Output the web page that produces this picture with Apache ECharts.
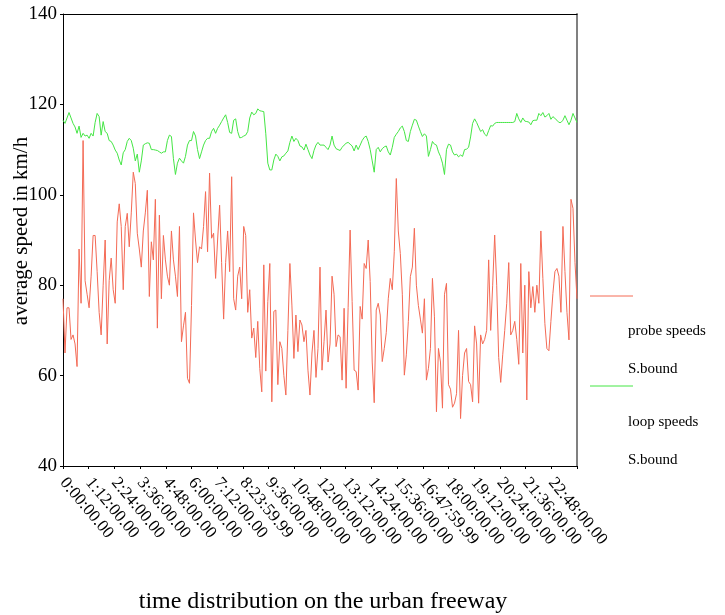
<!DOCTYPE html>
<html><head><meta charset="utf-8">
<script src="https://cdn.jsdelivr.net/npm/echarts@6/dist/echarts.min.js"></script>
<style>html,body{margin:0;padding:0;background:#fff}#c{width:725px;height:615px}</style>
</head><body><div id="c"></div>
<script>
// x-axis tick labels (one every 72 minutes over a 24 h day)
const tickLabels = ['0:00:00.00','1:12:00.00','2:24:00.00','3:36:00.00','4:48:00.00','6:00:00.00','7:12:00.00','8:23:59.99','9:36:00.00','10:48:00.00','12:00:00.00','13:12:00.00','14:24:00.00','15:36:00.00','16:47:59.99','18:00:00.00','19:12:00.00','20:24:00.00','21:36:00.00','22:48:00.00'];
const minutesPerTick = 72;
const dayMinutes = 1440;

// probe speeds, S.bound (km/h), samples evenly spread over the day
const probeSpeeds = [
77, 65, 75, 75, 68, 69, 67, 62, 88, 76, 112, 81, 78, 75, 82, 91, 91, 83, 74, 69, 80, 90, 67, 81, 86, 79, 76, 94, 98, 93, 79,
93, 95.9, 88.5, 96, 105, 102.5, 91.5, 88, 84, 92, 96, 101, 77.5, 89.6, 85.6, 99, 70.5, 95.5, 77, 91, 85.6, 82, 80, 92, 85.6, 82, 77.5, 93,
67.5, 71, 74, 59.4, 58.3, 75.5, 96, 90, 85, 88.5, 88, 93, 100.7, 87.4, 104.8, 90.4, 91.5, 81.5, 90, 97.7, 85, 72.5, 85, 92, 83, 104, 77, 74.5, 82, 84, 77, 93,
91, 74, 79, 68.3, 70.5, 64, 72, 61.6, 56.4, 84.5, 61, 76.4, 84.8, 54.2, 74.2, 74.5, 58, 67.5, 66, 60, 55.7, 70, 84.8, 75.6, 63.8, 73.4, 65.3, 72.3, 71.2, 67.5, 70, 61.2, 55.7, 65,
70, 59.6, 66, 84, 61.2, 67.5, 74.5, 63, 67, 82, 78, 66.4, 69, 68.6, 59, 74.9, 57.2, 75, 92.2, 76.4, 61.2, 60.9, 56.8, 75.3, 72.5, 84.8, 83.7, 90, 80.8, 63, 54, 74.5,
76, 73.4, 63.1, 66, 69.5, 77, 81.5, 79, 87.4, 103.6, 92, 87, 78, 60.1, 64.6, 72, 81.9, 84, 92.6, 80, 75.5, 72.5, 69.4, 77, 59, 61.6, 66, 81.5, 73, 52, 66, 63, 52.8, 78,
80.4, 58, 57, 53, 53.9, 56, 70, 50.5, 60, 65, 66, 58.7, 58, 54.2, 71, 67, 53.9, 69, 67, 68, 70, 85.6, 70, 80, 91.1, 80, 64, 58.5, 64.6, 70, 76,
85, 69, 70, 72, 68, 62.5, 84.8, 65, 80, 54.6, 83, 75, 79.7, 74, 80, 76, 92, 81.5, 71.5, 66, 65.5, 72, 78.2, 83, 83.7, 82, 74, 93, 83, 74, 67.9, 99, 97, 85, 77
];

// loop speeds, S.bound (km/h)
const loopSpeeds = [
116.5, 115.8, 117, 118.2, 117, 115.8, 115, 113.6, 115.2, 112.7, 113.6, 113, 113.2, 112.5, 113.6, 113, 116, 118, 117.3, 113.2, 116.2, 114, 113.6, 112, 111.8, 111, 109.9, 109.2, 107.7, 106.6, 109.3,
110, 111.8, 112.5, 112, 110.3, 107.5, 109, 105, 107.5, 111, 111.3, 111.5, 111.4, 110, 110, 109.9, 109.8, 109.5, 109.2, 109.5, 109.5, 112, 113.2, 112.9, 108, 104.5, 107, 108.1,
107.5, 107, 108.5, 111, 112, 112, 114, 113, 110, 108, 109.5, 111, 112, 112.5, 112.5, 114, 114.7, 113.6, 114.7, 115.4, 116.2, 117, 117.7, 116, 113.8, 113.6, 116.5, 116.8, 114, 112.6, 112.7, 113,
113.2, 114, 117, 118.3, 117.7, 118, 119, 118.6, 118.5, 118.4, 113.5, 107, 105.5, 105.5, 107.7, 109, 108.5, 107.5, 108.4, 108.6, 109.2, 109.7, 111.6, 113, 111.8, 112.5, 112, 110.8, 110.6, 109.9, 111.2, 110, 108.8, 108,
109.8, 111, 111.6, 111, 111, 111, 110.5, 110, 111, 113, 111, 110.2, 110, 109.8, 110.5, 111, 111.4, 111.6, 111.2, 110.8, 109.7, 111, 110, 111, 112, 112.7, 113, 111.8, 110, 107.5, 105, 110,
110.5, 109.5, 110.2, 110.6, 110.8, 109.5, 108.8, 110.5, 112.7, 113.4, 114, 114.8, 115.2, 114, 112, 111.8, 114, 115.4, 116.7, 116.5, 115.2, 114, 112.9, 113.5, 113, 108.5, 110, 111.8, 111.2, 111, 109.5, 108.5, 107, 104.5,
110, 111.2, 111, 109.5, 108.8, 109, 108.4, 108.8, 108.5, 110, 110.1, 110.5, 112.8, 115.8, 116.8, 116, 115, 114, 114.4, 113.4, 113, 114.2, 115.3, 115.2, 115.8, 116, 116, 116, 116, 116, 116,
116, 116, 116, 116.2, 118, 116.8, 116, 117, 116.3, 116.2, 116.1, 115.5, 116.4, 116.5, 116.5, 118, 117.5, 118.2, 117.2, 117.5, 118, 116.7, 117.3, 116.9, 116.5, 116, 116, 116.5, 117.5, 116.5, 115.5, 116.5, 118, 117, 116
];

const seriesNames = ['probe speeds S.bound', 'loop speeds S.bound'];
const legendText = [['probe speeds', 'S.bound'], ['loop speeds', 'S.bound']];
const seriesColors = ['#f46a55', '#45e645'];

const categories = probeSpeeds.map((_, i) => String(i));
const FONT = '"Liberation Serif", "Times New Roman", serif';

const chart = echarts.init(document.getElementById('c'), null, {renderer: 'canvas'});

const legendGraphics = [];
const legendRows = [[296, 331, 369], [386, 422, 460]];
legendRows.forEach((r, k) => {
  legendGraphics.push({type: 'line', shape: {x1: 590, y1: r[0], x2: 633, y2: r[0]}, style: {stroke: seriesColors[k], lineWidth: 1}});
  legendGraphics.push({type: 'text', x: 628, y: r[1], style: {text: legendText[k][0], font: '15px ' + FONT, fill: '#000', textVerticalAlign: 'middle'}});
  legendGraphics.push({type: 'text', x: 628, y: r[2], style: {text: legendText[k][1], font: '15px ' + FONT, fill: '#000', textVerticalAlign: 'middle'}});
});

chart.setOption({
  animation: false,
  backgroundColor: '#fff',
  grid: {left: 63, right: 148, top: 14, bottom: 149, show: false, containLabel: false, outerBoundsMode: 'none'},
  xAxis: [{
    // visible time-of-day axis (minutes)
    type: 'value', position: 'bottom', min: 0, max: dayMinutes, interval: minutesPerTick,
    axisLine: {lineStyle: {color: '#000', width: 1}},
    axisTick: {show: true, length: 3, lineStyle: {color: '#000'}},
    axisLabel: {rotate: -50, margin: 14, color: '#000', fontFamily: FONT, fontSize: 17, hideOverlap: false,
      formatter: (v) => tickLabels[Math.round(v / minutesPerTick)] || ''},
    splitLine: {show: false},
    name: 'time distribution on the urban freeway', nameLocation: 'middle', nameGap: 124, nameMoveOverlap: false,
    nameTextStyle: {color: '#000', fontFamily: FONT, fontSize: 24, padding: [0, 0, 0, 6]}
  }, {
    // sample axis for the series, drawn as the top frame line
    type: 'category', data: categories, boundaryGap: false, position: 'top',
    axisLine: {lineStyle: {color: '#000', width: 1}}, axisTick: {show: false}, axisLabel: {show: false}, splitLine: {show: false}
  }],
  yAxis: [{
    type: 'value', min: 40, max: 140, interval: 20,
    axisLine: {show: true, lineStyle: {color: '#000', width: 1}},
    axisTick: {show: true, length: 3, lineStyle: {color: '#000'}},
    splitLine: {show: false},
    axisLabel: {color: '#000', fontFamily: FONT, fontSize: 19, margin: 6},
    name: 'average speed in km/h', nameLocation: 'middle', nameGap: 31, nameMoveOverlap: false,
    nameTextStyle: {color: '#000', fontFamily: FONT, fontSize: 21, padding: [0, 0, 0, 18]}
  }, {
    type: 'value', min: 40, max: 140, interval: 20, position: 'right',
    axisLine: {show: true, lineStyle: {color: '#808080', width: 2}},
    axisTick: {show: false}, axisLabel: {show: false}, splitLine: {show: false}
  }],
  series: [{
    name: seriesNames[0], type: 'line', xAxisIndex: 1, yAxisIndex: 0, data: probeSpeeds, symbol: 'none',
    lineStyle: {color: seriesColors[0], width: 1}, itemStyle: {color: seriesColors[0]}
  }, {
    name: seriesNames[1], type: 'line', xAxisIndex: 1, yAxisIndex: 0, data: loopSpeeds, symbol: 'none',
    lineStyle: {color: seriesColors[1], width: 1}, itemStyle: {color: seriesColors[1]}
  }],
  graphic: legendGraphics
});
</script>
</body></html>
